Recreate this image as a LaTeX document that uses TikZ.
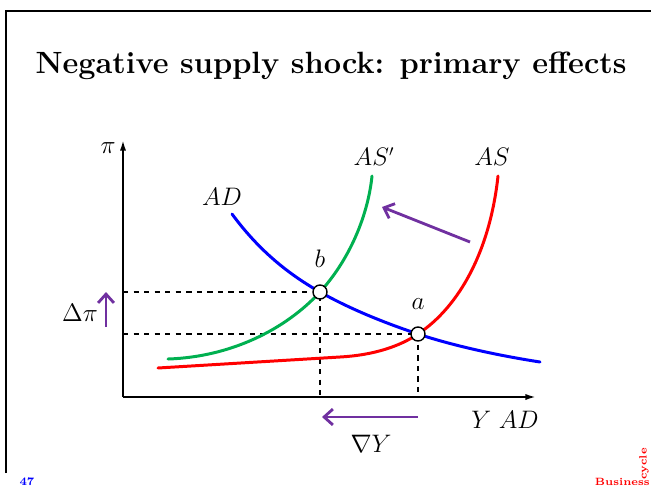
\documentclass[tikz,border=0pt]{standalone}
\usepackage{amsmath}
\usepackage{amssymb}
\usepackage{tikz}
\usetikzlibrary{arrows.meta, positioning, calc}
\definecolor{moradoAS}{RGB}{112,48,160}
\definecolor{verdeAS}{RGB}{0,176,80}
\definecolor{rojoAS}{RGB}{255,0,0}
\definecolor{azulAD}{RGB}{0,0,255}

\begin{document}
\begin{tikzpicture}[x=0.02cm, y=-0.02cm,
  curva/.style={line width=1.7pt, line cap=round},
  guia/.style={dashed, line width=0.6pt},
  eje/.style={line width=1.1pt, -{Latex[length=6pt,width=3.5pt]}},
  flecha/.style={line width=1.6pt, color=moradoAS, -{Straight Barb[length=5pt,width=9pt]}},
  punto/.style={circle, draw, fill=white, line width=0.8pt, minimum size=0.28cm, inner sep=0pt},
  etiq/.style={font=\fontsize{13.5}{15}\selectfont}
]
  \useasboundingbox (0,0) rectangle (651,490);
  % marco de la diapositiva
  \draw[line width=1.7pt] (6,473) -- (6,11) -- (651,11);
  \node[font=\bfseries\fontsize{17.5}{20}\selectfont] (titulo) at (331,66) {Negative supply shock: primary effects};

  % ejes
  \coordinate (O) at (123,397);
  \coordinate (pb) at (320,292);
  \coordinate (pa) at (418,334);
  \draw[eje] (O) -- (123,140);
  \draw[eje] (O) -- (536,397);

  % lineas de referencia
  \draw[guia] (pb -| O) -- (pb) -- (pb |- O);
  \draw[guia] (pa -| O) -- (pa) -- (pa |- O);

  % curvas
  \draw[curva, rojoAS] (158,368) -- (340,357)
    .. controls (375,355) and (400,346) .. (pa)
    .. controls (460,306) and (490,250) .. (498,176);
  \draw[curva, verdeAS] (168,359)
    .. controls (230,357) and (285,330) .. (pb)
    .. controls (350,259) and (368,215) .. (372,176);
  \draw[curva, azulAD] (232,214)
    .. controls (260,252) and (290,275) .. (pb)
    .. controls (350,309) and (385,323) .. (pa)
    .. controls (451,345) and (495,355) .. (540,362);

  % equilibrios
  \node[punto] (b) at (pb) {};
  \node[punto] (a) at (pa) {};
  \node[etiq, above=6pt of b] (lb) {$b$};
  \node[etiq, above=6pt of a] (la) {$a$};

  % rotulos
  \node[etiq] (lpi) at (108,148) {$\pi$};
  \node[etiq] (lAD) at (222,197) {$AD$};
  \node[etiq] (lASp) at (374,157) {$AS'$};
  \node[etiq] (lAS) at (492,157) {$AS$};
  \node[etiq] (lY) at (505,420) {$Y\ AD$};
  \node[etiq] (ldpi) at (80,313) {$\Delta\pi$};
  \node[etiq] (ldY) at (371,444) {$\nabla Y$};

  % desplazamientos
  \coordinate (s1) at (470,242);
  \coordinate (s2) at (382,207);
  \draw[flecha] (s1) -- (s2);
  \coordinate (y1) at (418,417);
  \coordinate (y2) at (322,417);
  \draw[flecha] (y1) -- (y2);
  \coordinate (p1) at (106,327);
  \coordinate (p2) at (106,292);
  \draw[flecha] (p1) -- (p2);

  % pie
  \node[font=\bfseries\fontsize{6.5}{7}\selectfont, text=blue] (num) at (27,482) {47};
  \node[font=\bfseries\fontsize{6}{7}\selectfont, text=red, anchor=east, inner sep=0pt] (pie) at (650,482) {Business};
  \node[font=\bfseries\fontsize{6}{7}\selectfont, text=red, rotate=90, anchor=south, inner sep=0pt] (pie2) at (649,464) {cycle};
\end{tikzpicture}
\end{document}
